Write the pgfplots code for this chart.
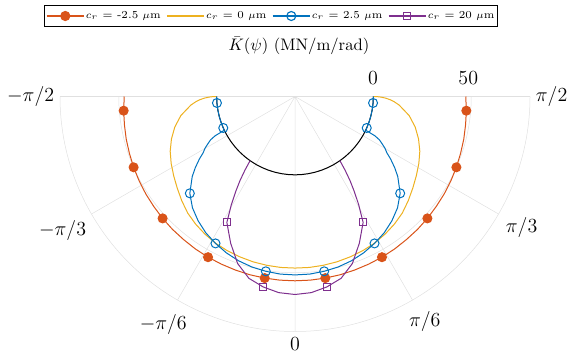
\documentclass[border=0pt]{standalone}
\usepackage{pgfplots}
\pgfplotsset{compat=1.18}
\usepgfplotslibrary{polar}

\definecolor{mlorange}{rgb}{0.850,0.325,0.098}
\definecolor{mlyellow}{rgb}{0.929,0.694,0.125}
\definecolor{mlblue}{rgb}{0,0.447,0.741}
\definecolor{mlpurple}{rgb}{0.494,0.184,0.556}

% psi in degrees (0 points down), stiffness in MN/m/rad; the radial axis starts at -40
\pgfplotsset{kpsi/.style={x filter/.expression={x+270}, y filter/.expression={y+40}}}

\begin{document}
\begin{tikzpicture}
\begin{polaraxis}[
  scale only axis,
  width=282pt, height=282pt,
  clip=false,
  xmin=180, xmax=360,
  ymin=0, ymax=120,
  xtick={180,210,240,270,300,330,360},
  xticklabels={$-\pi/2$,$-\pi/3$,$-\pi/6$,$0$,$\pi/6$,$\pi/3$,$\pi/2$},
  ytick={40,90},
  yticklabels={},
  tick label style={font=\large},
  xmajorgrids, ymajorgrids,
  major grid style={black!12, line width=0.3pt},
  axis line style={black!12, line width=0.3pt},
  major tick length=0pt,
  legend style={at={(axis cs:106.6,42.9)}, anchor=center,
    font=\fontsize{6.4}{7.5}\selectfont,
    draw=black, line width=0.5pt, inner xsep=1pt, inner ysep=2.6pt,
    legend columns=-1, nodes={inner sep=0.8pt},
    /tikz/every even column/.append style={column sep=2.5pt}},
  legend cell align=left,
  legend image code/.code={\draw[mark repeat=2,mark phase=2,#1]
    plot coordinates {(0pt,0pt) (11.2pt,0pt) (22.4pt,0pt)};},
  legend image post style={mark indices={2}, line width=0.7pt},
  every axis plot/.append style={line width=0.6pt},
]
% zero circle
\addplot[kpsi, black, forget plot] coordinates {
(-90,0) (-85,0) (-80,0) (-75,0) (-70,0) (-65,0) (-60,0) (-55,0) (-50,0) (-45,0)
(-40,0) (-35,0) (-30,0) (-25,0) (-20,0) (-15,0) (-10,0) (-5,0) (0,0)
(5,0) (10,0) (15,0) (20,0) (25,0) (30,0) (35,0) (40,0) (45,0) (50,0)
(55,0) (60,0) (65,0) (70,0) (75,0) (80,0) (85,0) (90,0)};

% c_r = -2.5
\addplot[kpsi, color=mlorange, mark=*, mark size=2.7pt,
  mark options={fill=mlorange, draw=mlorange},
  mark indices={2,6,10,14,18,22,26,30,34,38}] coordinates {
(-90,47.2) (-85.263,47.8) (-80.526,48.3) (-75.789,48.9) (-71.053,49.4)
(-66.316,50.0) (-61.579,50.5) (-56.842,51.0) (-52.105,51.4) (-47.368,51.9)
(-42.632,52.3) (-37.895,52.6) (-33.158,53.0) (-28.421,53.3) (-23.684,53.5)
(-18.947,53.7) (-14.211,53.9) (-9.474,54.0) (-4.737,54.1) (0,54.1)
(4.737,54.1) (9.474,54.0) (14.211,53.9) (18.947,53.7) (23.684,53.5)
(28.421,53.3) (33.158,53.0) (37.895,52.6) (42.632,52.3) (47.368,51.9)
(52.105,51.4) (56.842,51.0) (61.579,50.5) (66.316,50.0) (71.053,49.4)
(75.789,48.9) (80.526,48.3) (85.263,47.8) (90,47.2)};
\addlegendentry{$c_r$ = -2.5 $\mu$m}

% c_r = 0
\addplot[kpsi, color=mlyellow] coordinates {
(-90,0) (-89.9,2.0) (-89.6,3.9) (-89,6.2) (-88,8.8) (-87,10.7) (-85.263,13.4)
(-80.526,19.1) (-75.789,23.3) (-71.053,26.7) (-66.316,29.6) (-61.579,31.9)
(-56.842,34.0) (-52.105,36.2) (-47.368,38.6) (-42.632,40.9) (-37.895,42.6)
(-33.158,44.0) (-28.421,45.2) (-23.684,46.0) (-18.947,46.6) (-14.211,47.1)
(-9.474,47.4) (-4.737,47.6) (0,47.6)
(4.737,47.6) (9.474,47.4) (14.211,47.1) (18.947,46.6) (23.684,46.0)
(28.421,45.2) (33.158,44.0) (37.895,42.6) (42.632,40.9) (47.368,38.6)
(52.105,36.2) (56.842,34.0) (61.579,31.9) (66.316,29.6) (71.053,26.7)
(75.789,23.3) (80.526,19.1) (85.263,13.4) (87,10.7) (88,8.8) (89,6.2)
(89.6,3.9) (89.9,2.0) (90,0)};
\addlegendentry{$c_r$ = 0 $\mu$m}

% c_r = 2.5
\addplot[kpsi, color=mlblue, mark=o, mark size=2.7pt,
  mark indices={2,6,16,20,24,28,32,36,46,50}] coordinates {
(-90,0) (-85.263,0) (-80.526,0) (-75.789,0) (-71.053,0) (-66.316,0)
(-64.5,0) (-63.8,5.5) (-62.8,8.5) (-61.579,10.5) (-60.1,13.0) (-58.5,15.0)
(-56.842,18.3) (-54.5,22.5) (-52.105,26.5) (-47.368,33.0) (-42.632,37.3)
(-37.895,40.5) (-33.158,43.2) (-28.421,45.3) (-23.684,47.2) (-18.947,48.7)
(-14.211,49.8) (-9.474,50.5) (-4.737,51.0) (0,51.1)
(4.737,51.0) (9.474,50.5) (14.211,49.8) (18.947,48.7) (23.684,47.2)
(28.421,45.3) (33.158,43.2) (37.895,40.5) (42.632,37.3) (47.368,33.0)
(52.105,26.5) (54.5,22.5) (56.842,18.3) (58.5,15.0) (60.1,13.0)
(61.579,10.5) (62.8,8.5) (63.8,5.5) (64.5,0) (66.316,0) (71.053,0)
(75.789,0) (80.526,0) (85.263,0) (90,0)};
\addlegendentry{$c_r$ = 2.5 $\mu$m}

% c_r = 20
\addplot[kpsi, color=mlpurple, mark=square, mark size=2.1pt,
  mark indices={6,10,14,18}] coordinates {
(-35,0) (-34.2,5.5) (-33.158,11.5) (-32,17.0) (-30.5,24.0) (-28.421,33.1)
(-23.684,41.8) (-18.947,50.2) (-14.211,55.8) (-9.474,58.6) (-4.737,60.5)
(0,61.1)
(4.737,60.5) (9.474,58.6) (14.211,55.8) (18.947,50.2) (23.684,41.8)
(28.421,33.1) (30.5,24.0) (32,17.0) (33.158,11.5) (34.2,5.5) (35,0)};
\addlegendentry{$c_r$ = 20 $\mu$m}

% title and radial tick labels
\node[font=\normalsize] at (axis cs:85.5,25.9) {$\bar{K}(\psi)$ (MN/m/rad)};
\node[font=\large] at (axis cs:13.55,40.96) {$0$};
\node[font=\large] at (axis cs:6.19,89.0) {$50$};
\coordinate (C) at (axis cs:0,0);
\end{polaraxis}
\pgfresetboundingbox
\path[use as bounding box] ([shift={(-177pt,57.9pt)}]C) rectangle ([shift={(164.4pt,-159.3pt)}]C);
\end{tikzpicture}
\end{document}
